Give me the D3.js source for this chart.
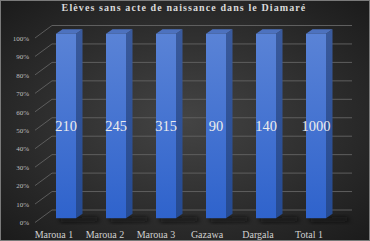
<!DOCTYPE html>
<html>
<head>
<meta charset="utf-8">
<script src="https://cdn.jsdelivr.net/npm/d3@7"></script>
<style>
    html, body { margin: 0; padding: 0; background: #1e1e1e; }
    svg { display: block; }
</style>
</head>
<body>
<script>
"use strict";

// Data
const categories = ['Maroua 1', 'Maroua 2', 'Maroua 3', 'Gazawa', 'Dargala', 'Total 1'];
const eleves = [210, 245, 315, 90, 140, 1000];
const tickValues = [0, 0.1, 0.2, 0.3, 0.4, 0.5, 0.6, 0.7, 0.8, 0.9, 1];
const title = 'Elèves sans acte de naissance dans le Diamaré';

const W = 370, H = 241;
// depth of the 3D box (front plane -> back wall)
const depthX = 17, depthY = -12.5;
// bar front face sits ~1/3 into the box, bar depth
const barOffY = -4.3, barDX = 6.5, barDY = -4.4;

function drawChart() {
    let svg = d3.select('body').append('svg')
        .attr('width', W)
        .attr('height', H);

    let defs = svg.append('defs');
    let bg = defs.append('radialGradient')
        .attr('id', 'bg-grad')
        .attr('cx', '50%').attr('cy', '50%').attr('r', '70%');
    bg.append('stop').attr('offset', '0%').attr('stop-color', '#444444');
    bg.append('stop').attr('offset', '100%').attr('stop-color', '#1b1b1b');

    let front = defs.append('linearGradient')
        .attr('id', 'bar-front')
        .attr('x1', 0).attr('y1', 0).attr('x2', 0).attr('y2', 1);
    front.append('stop').attr('offset', '0%').attr('stop-color', '#5a83d6');
    front.append('stop').attr('offset', '100%').attr('stop-color', '#2f63cc');

    let side = defs.append('linearGradient')
        .attr('id', 'bar-side')
        .attr('x1', 0).attr('y1', 0).attr('x2', 0).attr('y2', 1);
    side.append('stop').attr('offset', '0%').attr('stop-color', '#3a5a9c');
    side.append('stop').attr('offset', '100%').attr('stop-color', '#254a91');

    defs.append('filter')
        .attr('id', 'shadow-blur')
        .attr('x', '-50%').attr('y', '-50%').attr('width', '200%').attr('height', '200%')
        .append('feGaussianBlur').attr('stdDeviation', 2);

    svg.append('rect')
        .attr('width', W).attr('height', H)
        .attr('fill', 'url(#bg-grad)');
    svg.append('rect')
        .attr('x', 0.5).attr('y', 0.5)
        .attr('width', W - 1).attr('height', H - 1)
        .attr('fill', 'none')
        .attr('stroke', '#7a7a7a');

    // 100% stacked: each column fills its own stack
    let table = categories.map((c, i) => ({ cat: c, eleves: eleves[i] }));
    let stacked = d3.stack().keys(['eleves']).offset(d3.stackOffsetExpand)(table);

    let y = d3.scaleLinear().domain([0, 1]).range([222.5, 38]);
    let xLabel = d3.scaleBand().domain(categories).range([28.5, 334.5]);
    let xBar = d3.scaleBand().domain(categories).range([41, 341])
        .paddingInner(0.6).paddingOuter(0.3);

    // back wall gridlines + diagonal side lines
    let grid = svg.append('g');
    grid.selectAll('line.wall')
        .data(tickValues)
        .join('line')
        .attr('class', 'wall')
        .attr('x1', 35 + depthX).attr('x2', 352)
        .attr('y1', d => y(d) + depthY).attr('y2', d => y(d) + depthY)
        .attr('stroke', '#5f5f5f').attr('stroke-width', 1);
    grid.selectAll('line.diag')
        .data(tickValues)
        .join('line')
        .attr('class', 'diag')
        .attr('x1', 35).attr('x2', 35 + depthX)
        .attr('y1', d => y(d)).attr('y2', d => y(d) + depthY)
        .attr('stroke', '#6a6a6a').attr('stroke-width', 0.8);

    let yAxis = d3.axisLeft(y)
        .tickValues(tickValues)
        .tickFormat(d3.format('.0%'))
        .tickSize(0)
        .tickPadding(0);
    let ax = svg.append('g')
        .attr('transform', 'translate(29,0)')
        .call(yAxis);
    ax.select('.domain').remove();
    ax.selectAll('text')
        .attr('font-family', '"Liberation Serif", serif')
        .attr('font-size', 7)
        .attr('fill', '#bfbfbf');

    // bars
    let bars = svg.append('g').selectAll('g.bar')
        .data(stacked[0])
        .join('g')
        .attr('class', 'bar');

    const pts = a => a.map(p => p.join(',')).join(' ');

    // floor shadow
    bars.append('polygon')
        .attr('points', d => {
            let x0 = xBar(d.data.cat), x1 = x0 + xBar.bandwidth();
            let yb = y(d[0]) + barOffY;
            return pts([[x0 + 2, yb], [x1 + barDX + 14, yb - 1], [x1 + barDX + 18, yb + 3], [x0 + 6, yb + 4]]);
        })
        .attr('fill', '#111111')
        .attr('opacity', 0.8)
        .attr('filter', 'url(#shadow-blur)');

    // side face
    bars.append('polygon')
        .attr('points', d => {
            let x1 = xBar(d.data.cat) + xBar.bandwidth();
            let yt = y(d[1]) + barOffY, yb = y(d[0]) + barOffY;
            return pts([[x1, yt], [x1 + barDX, yt + barDY], [x1 + barDX, yb + barDY], [x1, yb]]);
        })
        .attr('fill', 'url(#bar-side)');

    // top face
    bars.append('polygon')
        .attr('points', d => {
            let x0 = xBar(d.data.cat), x1 = x0 + xBar.bandwidth();
            let yt = y(d[1]) + barOffY;
            return pts([[x0, yt], [x1, yt], [x1 + barDX, yt + barDY], [x0 + barDX, yt + barDY]]);
        })
        .attr('fill', '#4d72bf');

    // front face
    bars.append('rect')
        .attr('x', d => xBar(d.data.cat))
        .attr('y', d => y(d[1]) + barOffY)
        .attr('width', xBar.bandwidth())
        .attr('height', d => y(d[0]) - y(d[1]))
        .attr('fill', 'url(#bar-front)');

    bars.append('text')
        .attr('x', d => xBar(d.data.cat) + xBar.bandwidth() / 2)
        .attr('y', 131)
        .attr('text-anchor', 'middle')
        .attr('font-family', '"Liberation Serif", serif')
        .attr('font-size', 14.5)
        .attr('fill', '#ececec')
        .text(d => d.data.eleves);

    // category labels
    svg.append('g').selectAll('text')
        .data(categories)
        .join('text')
        .attr('x', d => xLabel(d) + xLabel.bandwidth() / 2)
        .attr('y', 237.5)
        .attr('text-anchor', 'middle')
        .attr('font-family', '"Liberation Serif", serif')
        .attr('font-size', 10)
        .attr('fill', '#d0d0d0')
        .text(d => d);

    // title
    svg.append('text')
        .attr('x', 184)
        .attr('y', 10.5)
        .attr('text-anchor', 'middle')
        .attr('font-family', '"Liberation Serif", serif')
        .attr('font-size', 10)
        .attr('font-weight', 'bold')
        .attr('letter-spacing', 1.1)
        .attr('fill', '#d9d9d9')
        .text(title);
}

drawChart();
</script>
</body>
</html>
